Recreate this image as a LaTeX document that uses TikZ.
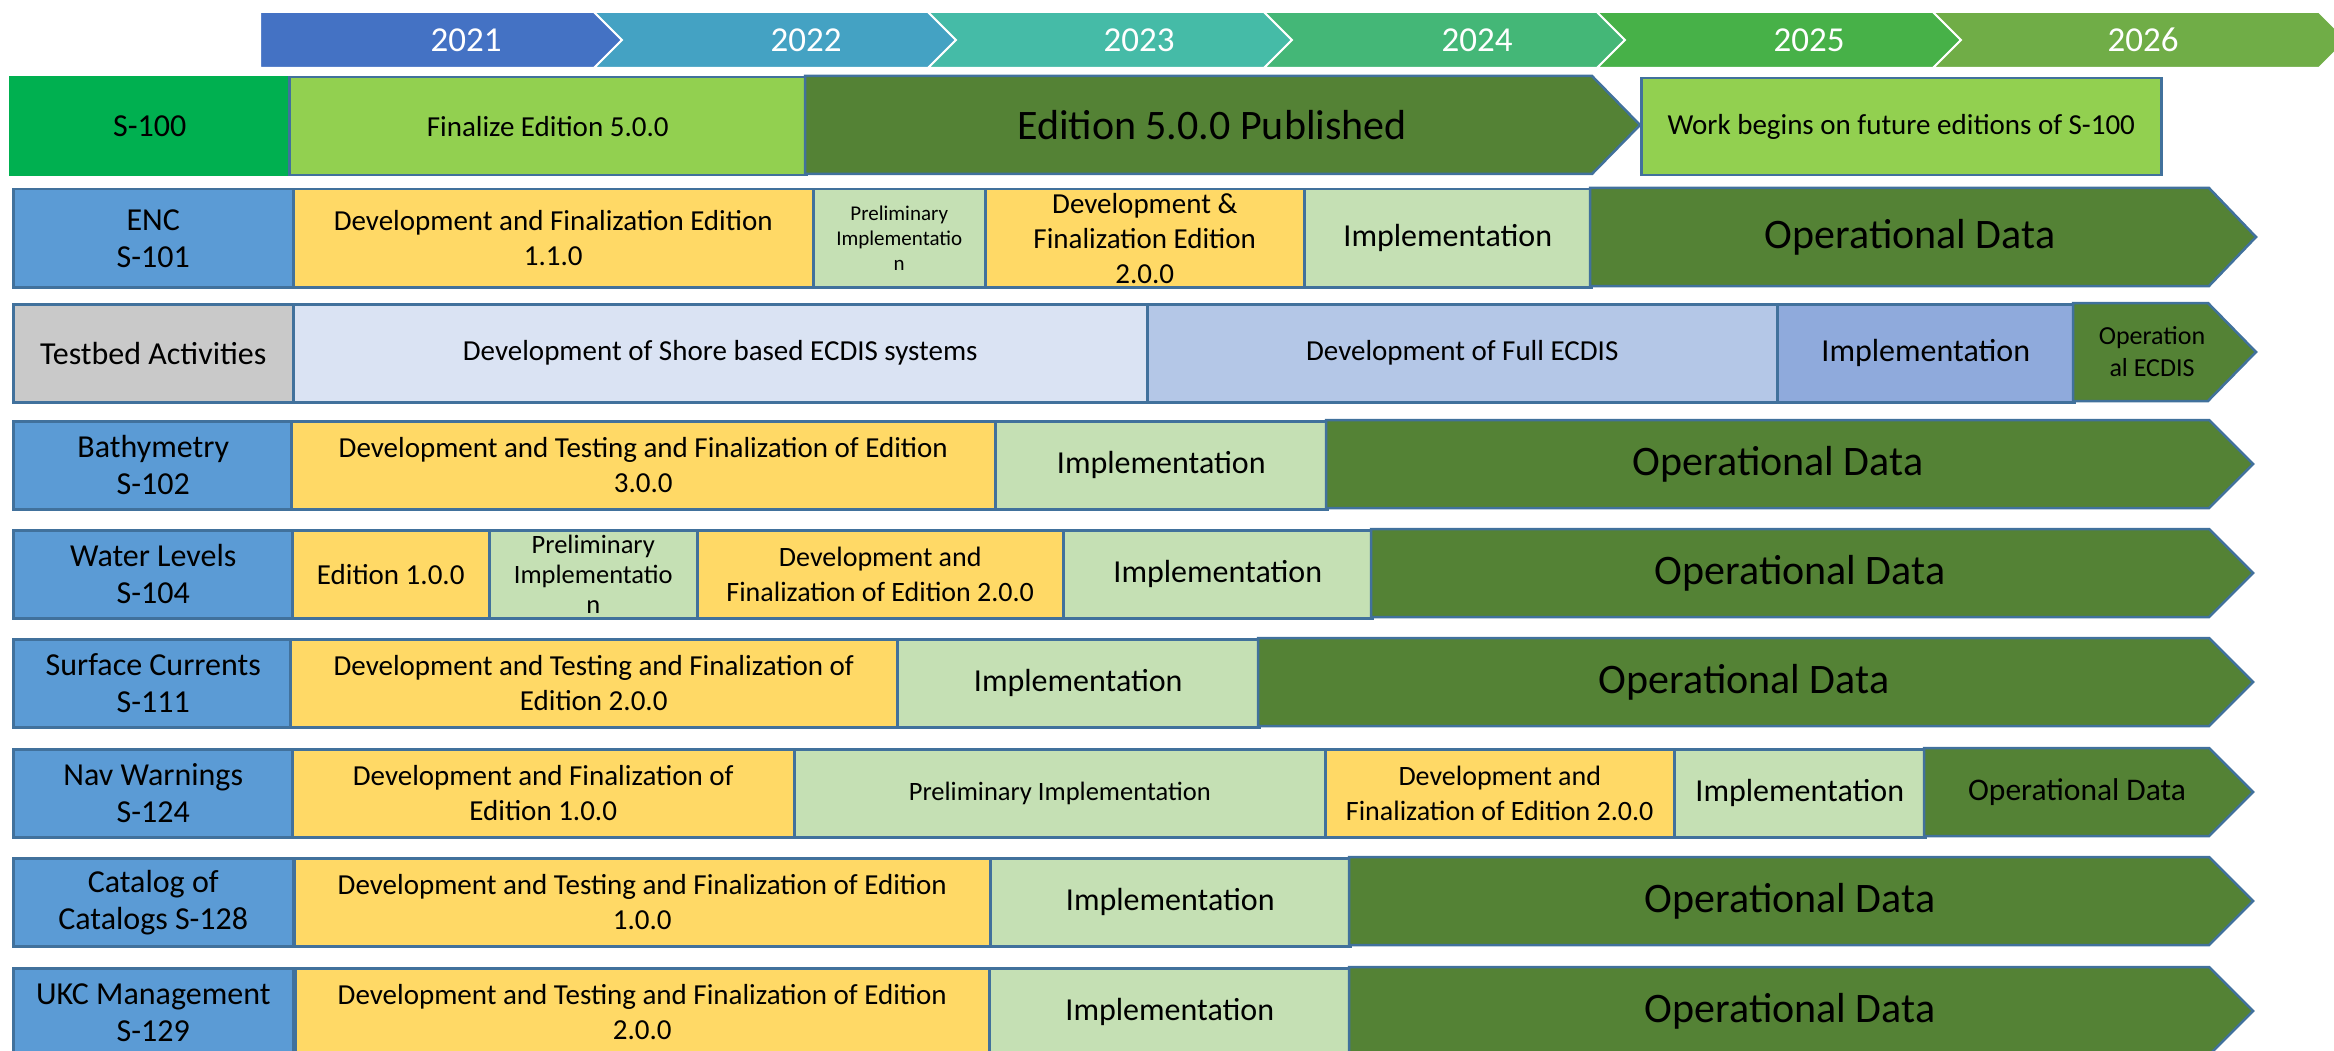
\documentclass[tikz,border=0pt]{standalone}
\usepackage{fontspec}
\setmainfont{Carlito}
\definecolor{edge}{HTML}{41719C}
\definecolor{lblblue}{HTML}{5B9BD5}
\definecolor{s100green}{HTML}{00B050}
\definecolor{limegreen}{HTML}{92D050}
\definecolor{darkgreen}{HTML}{548235}
\definecolor{devyellow}{HTML}{FFD966}
\definecolor{implgreen}{HTML}{C5E0B4}
\definecolor{tbgray}{HTML}{C9C9C9}
\definecolor{shore}{HTML}{DAE3F3}
\definecolor{fullecdis}{HTML}{B4C7E7}
\definecolor{tbimpl}{HTML}{8FAADC}
\definecolor{y21}{HTML}{4472C4}
\definecolor{y22}{HTML}{44A2C3}
\definecolor{y23}{HTML}{45BBA7}
\definecolor{y24}{HTML}{44B777}
\definecolor{y25}{HTML}{47B148}
\definecolor{y26}{HTML}{70AD47}

\begin{document}
\begin{tikzpicture}[x=1pt,y=-1pt,
  outl/.style={draw=edge,line width=2.5pt},
  box/.style={outl,anchor=north west,inner sep=0pt,align=center,font=\fontsize{29}{35}\selectfont},
  lbl/.style={box,fill=lblblue,minimum width=280pt,font=\fontsize{32}{37}\selectfont},
  dev/.style={box,fill=devyellow},
  impl/.style={box,fill=implgreen,font=\fontsize{32}{37}\selectfont},
  big/.style={font=\fontsize{42}{48}\selectfont},
  year/.style={text=white,font=\fontsize{35}{40}\selectfont},
  tall/.style={minimum height=98pt},
  low/.style={minimum height=88pt}]
  \useasboundingbox (0,0) rectangle (2334,1051);
  \clip (0,0) rectangle (2334,1051);

  % years
  \foreach \l/\r/\n/\col/\tx/\yr in {260/594/0/y21/466/2021, 594/928/28/y22/806/2022,
      928/1264/28/y23/1139/2023, 1264/1597/28/y24/1477/2024,
      1597/1933/28/y25/1809/2025, 1933/2319/28/y26/2143/2026}
  {
    \draw[white,line width=2pt,fill=\col] (\l,12) -- (\r,12) -- ++(28,28) -- (\r,68) -- (\l,68) -- ++(\n,-28) -- cycle;
    \node[year] (yr\yr) at (\tx,40) {\yr};
  }

  % S-100
  \node[lbl,tall,fill=s100green,draw=s100green,minimum width=279pt] (s100) at (9,76) {S-100};
  \node[box,tall,fill=limegreen,minimum width=517pt] (s100fin) at (288,76) {Finalize Edition 5.0.0};
  \draw[outl,fill=darkgreen] (805,76) -- (1592,76) -- (1640,125) -- (1592,174) -- (805,174) -- cycle;
  \node[big] (s100pub) at (1212,125) {Edition 5.0.0 Published};
  \node[box,fill=limegreen,minimum width=520pt,minimum height=97pt] (s100fut) at (1640,77) {Work begins on future editions of S-100};

  % ENC
  \node[lbl,tall] (enc) at (12,188) {ENC\\S-101};
  \node[dev,tall,minimum width=520pt] (encdev) at (292,188) {Development and Finalization Edition\\1.1.0};
  \node[box,tall,fill=implgreen,minimum width=172pt,font=\fontsize{21}{25}\selectfont] (encpre) at (812,188) {Preliminary\\Implementatio\\n};
  \node[dev,tall,minimum width=319pt] (encdevb) at (984,188) {Development \&\\Finalization Edition\\2.0.0};
  \node[impl,tall,minimum width=287pt] (encimpl) at (1303,188) {Implementation};
  \draw[outl,fill=darkgreen] (1590,188) -- (2209,188) -- (2256,237) -- (2209,286) -- (1590,286) -- cycle;
  \node[big] (encop) at (1910,237) {Operational Data};

  % Testbed
  \node[lbl,tall,fill=tbgray] (tb) at (12,303) {Testbed Activities};
  \node[box,tall,fill=shore,minimum width=854pt] (tbshore) at (292,303) {Development of Shore based ECDIS systems};
  \node[box,tall,fill=fullecdis,minimum width=630pt] (tbfull) at (1146,303) {Development of Full ECDIS};
  \node[impl,tall,fill=tbimpl,minimum width=297pt] (tbimpl) at (1776,303) {Implementation};
  \draw[outl,fill=darkgreen] (2073,303) -- (2208,303) -- (2256,352) -- (2208,401) -- (2073,401) -- cycle;
  \node[align=center,font=\fontsize{26}{32}\selectfont] (tbop) at (2152,352) {Operation\\al ECDIS};

  % Bathymetry
  \node[lbl,low] (bat) at (12,420) {Bathymetry\\S-102};
  \node[dev,low,minimum width=704pt] (batdev) at (290,420) {Development and Testing and Finalization of Edition\\3.0.0};
  \node[impl,low,minimum width=332pt] (batimpl) at (994,420) {Implementation};
  \draw[outl,fill=darkgreen] (1326,420) -- (2209,420) -- (2253,464) -- (2209,508) -- (1326,508) -- cycle;
  \node[big] (batop) at (1778,464) {Operational Data};

  % Water Levels
  \node[lbl,low] (wl) at (12,529) {Water Levels\\S-104};
  \node[dev,low,minimum width=197pt] (wled) at (291,529) {Edition 1.0.0};
  \node[box,low,fill=implgreen,minimum width=208pt,font=\fontsize{26.5}{30}\selectfont] (wlpre) at (488,529) {Preliminary\\Implementatio\\n};
  \node[dev,low,minimum width=366pt,font=\fontsize{28}{35}\selectfont] (wldev) at (696,529) {Development and\\Finalization of Edition 2.0.0};
  \node[impl,low,minimum width=309pt] (wlimpl) at (1062,529) {Implementation};
  \draw[outl,fill=darkgreen] (1371,529) -- (2209,529) -- (2253,573) -- (2209,617) -- (1371,617) -- cycle;
  \node[big] (wlop) at (1800,573) {Operational Data};

  % Surface Currents
  \node[lbl,low] (sc) at (12,638) {Surface Currents\\S-111};
  \node[dev,low,minimum width=607pt] (scdev) at (289,638) {Development and Testing and Finalization of\\Edition 2.0.0};
  \node[impl,low,minimum width=362pt] (scimpl) at (896,638) {Implementation};
  \draw[outl,fill=darkgreen] (1258,638) -- (2209,638) -- (2253,682) -- (2209,726) -- (1258,726) -- cycle;
  \node[big] (scop) at (1744,682) {Operational Data};

  % Nav Warnings
  \node[lbl,low] (nw) at (12,748) {Nav Warnings\\S-124};
  \node[dev,low,minimum width=502pt] (nwdev) at (291,748) {Development and Finalization of\\Edition 1.0.0};
  \node[box,low,fill=implgreen,minimum width=531pt,font=\fontsize{26.5}{30}\selectfont] (nwpre) at (793,748) {Preliminary Implementation};
  \node[dev,low,minimum width=349pt,font=\fontsize{28}{35}\selectfont] (nwdevb) at (1324,748) {Development and\\Finalization of Edition 2.0.0};
  \node[impl,low,minimum width=251pt] (nwimpl) at (1673,748) {Implementation};
  \draw[outl,fill=darkgreen] (1924,748) -- (2209,748) -- (2253,792) -- (2209,836) -- (1924,836) -- cycle;
  \node[font=\fontsize{31.5}{36}\selectfont] (nwop) at (2077,792) {Operational Data};

  % Catalog of Catalogs
  \node[lbl,low] (cc) at (12,857) {Catalog of\\Catalogs S-128};
  \node[dev,low,minimum width=696pt] (ccdev) at (293,857) {Development and Testing and Finalization of Edition\\1.0.0};
  \node[impl,low,minimum width=360pt] (ccimpl) at (989,857) {Implementation};
  \draw[outl,fill=darkgreen] (1349,857) -- (2209,857) -- (2253,901) -- (2209,945) -- (1349,945) -- cycle;
  \node[big] (ccop) at (1790,901) {Operational Data};

  % UKC Management
  \node[lbl,low] (ukc) at (12,967) {UKC Management\\S-129};
  \node[dev,low,minimum width=694pt] (ukcdev) at (294,967) {Development and Testing and Finalization of Edition\\2.0.0};
  \node[impl,low,minimum width=361pt] (ukcimpl) at (988,967) {Implementation};
  \draw[outl,fill=darkgreen] (1349,967) -- (2209,967) -- (2253,1011) -- (2209,1055) -- (1349,1055) -- cycle;
  \node[big] (ukcop) at (1790,1011) {Operational Data};
\end{tikzpicture}
\end{document}
